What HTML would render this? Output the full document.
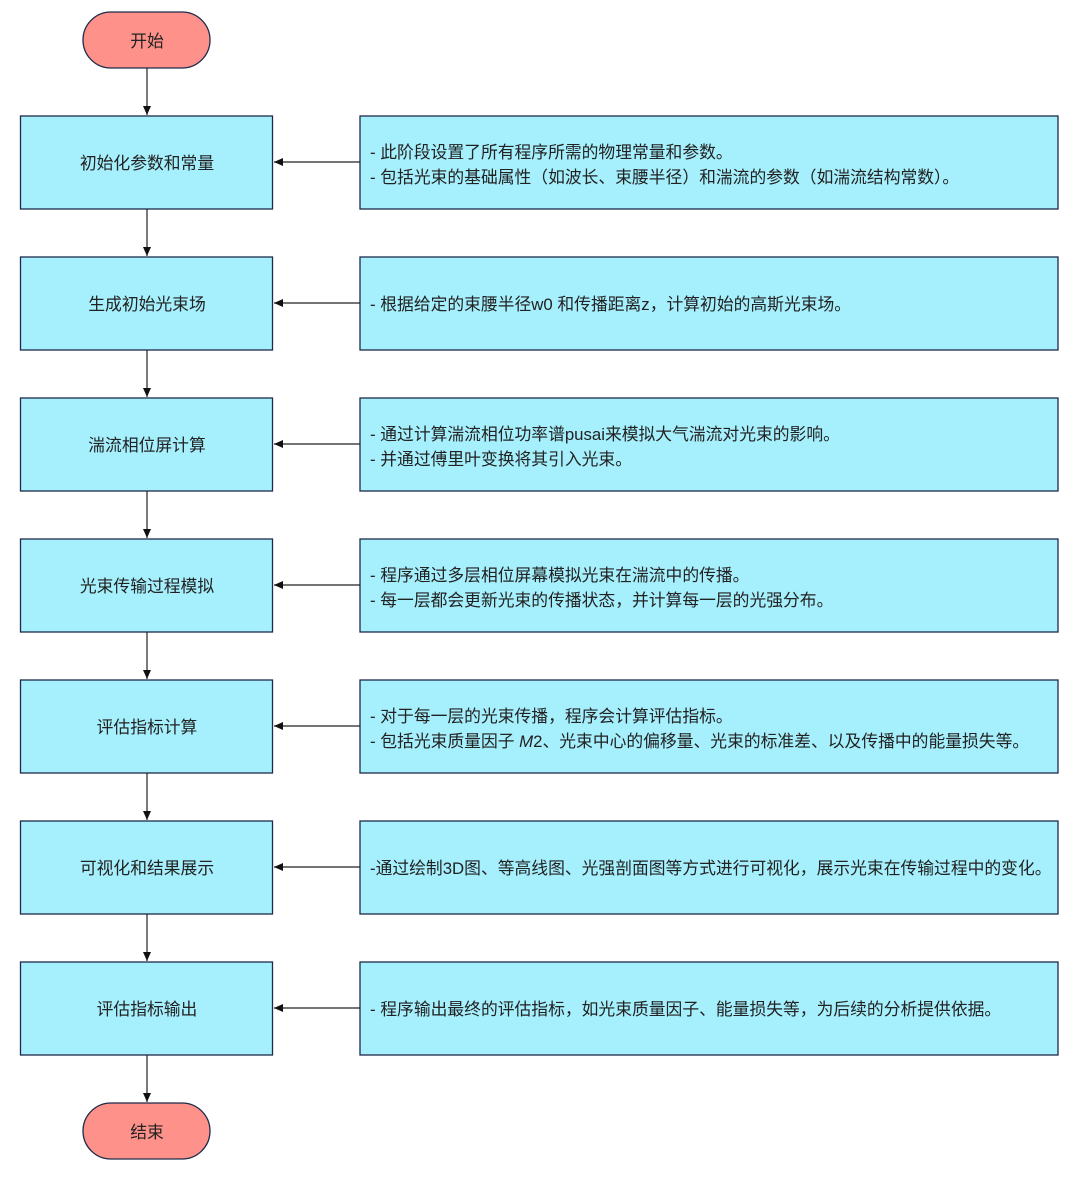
<!DOCTYPE html>
<html><head><meta charset="utf-8"><style>
body{margin:0;background:#fff}
text{font-family:"Liberation Sans","Noto Sans CJK SC",sans-serif;font-size:16.8px;fill:#222}
</style></head><body>
<svg width="1090" height="1186" xmlns="http://www.w3.org/2000/svg">
<defs><marker id="a" markerWidth="10" markerHeight="10" refX="9" refY="5" orient="auto" markerUnits="userSpaceOnUse"><path d="M0,1 L9,5 L0,9 Z" fill="#111"/></marker></defs>
<g stroke="#1e2a4a" stroke-width="1.3">
<rect x="83" y="12" width="127" height="56" rx="28" fill="#fe928a"/>
<rect x="83" y="1103" width="127" height="56" rx="28" fill="#fe928a"/>
</g>
<g stroke="#1e2a4a" stroke-width="1.3" fill="#a6effc">
<rect x="20.5" y="116" width="252" height="93"/><rect x="360" y="116" width="698" height="93"/>
<rect x="20.5" y="257" width="252" height="93"/><rect x="360" y="257" width="698" height="93"/>
<rect x="20.5" y="398" width="252" height="93"/><rect x="360" y="398" width="698" height="93"/>
<rect x="20.5" y="539" width="252" height="93"/><rect x="360" y="539" width="698" height="93"/>
<rect x="20.5" y="680" width="252" height="93"/><rect x="360" y="680" width="698" height="93"/>
<rect x="20.5" y="821" width="252" height="93"/><rect x="360" y="821" width="698" height="93"/>
<rect x="20.5" y="962" width="252" height="93"/><rect x="360" y="962" width="698" height="93"/>
</g>
<g stroke="#222" stroke-width="1.2" marker-end="url(#a)">
<line x1="147" y1="68" x2="147" y2="115"/>
<line x1="147" y1="209" x2="147" y2="256"/>
<line x1="147" y1="350" x2="147" y2="397"/>
<line x1="147" y1="491" x2="147" y2="538"/>
<line x1="147" y1="632" x2="147" y2="679"/>
<line x1="147" y1="773" x2="147" y2="820"/>
<line x1="147" y1="914" x2="147" y2="961"/>
<line x1="147" y1="1055" x2="147" y2="1102"/>
<line x1="360" y1="162" x2="274" y2="162"/>
<line x1="360" y1="303" x2="274" y2="303"/>
<line x1="360" y1="444" x2="274" y2="444"/>
<line x1="360" y1="585" x2="274" y2="585"/>
<line x1="360" y1="726" x2="274" y2="726"/>
<line x1="360" y1="867" x2="274" y2="867"/>
<line x1="360" y1="1008" x2="274" y2="1008"/>
</g>
<g text-anchor="middle">
<text x="147" y="47">开始</text>
<text x="147" y="1138">结束</text>
<text x="147" y="169">初始化参数和常量</text>
<text x="147" y="310">生成初始光束场</text>
<text x="147" y="451">湍流相位屏计算</text>
<text x="147" y="592">光束传输过程模拟</text>
<text x="147" y="733">评估指标计算</text>
<text x="147" y="874">可视化和结果展示</text>
<text x="147" y="1015">评估指标输出</text>
</g>
<g>
<text x="370" y="158">- 此阶段设置了所有程序所需的物理常量和参数。</text>
<text x="370" y="183">- 包括光束的基础属性（如波长、束腰半径）和湍流的参数（如湍流结构常数）。</text>
<text x="370" y="310">- 根据给定的束腰半径w0 和传播距离z，计算初始的高斯光束场。</text>
<text x="370" y="440">- 通过计算湍流相位功率谱pusai来模拟大气湍流对光束的影响。</text>
<text x="370" y="465">- 并通过傅里叶变换将其引入光束。</text>
<text x="370" y="581">- 程序通过多层相位屏幕模拟光束在湍流中的传播。</text>
<text x="370" y="606">- 每一层都会更新光束的传播状态，并计算每一层的光强分布。</text>
<text x="370" y="722">- 对于每一层的光束传播，程序会计算评估指标。</text>
<text x="370" y="747">- 包括光束质量因子 <tspan font-style="italic">M</tspan>2、光束中心的偏移量、光束的标准差、以及传播中的能量损失等。</text>
<text x="370" y="874">-通过绘制3D图、等高线图、光强剖面图等方式进行可视化，展示光束在传输过程中的变化。</text>
<text x="370" y="1015">- 程序输出最终的评估指标，如光束质量因子、能量损失等，为后续的分析提供依据。</text>
</g>
</svg>
</body></html>
